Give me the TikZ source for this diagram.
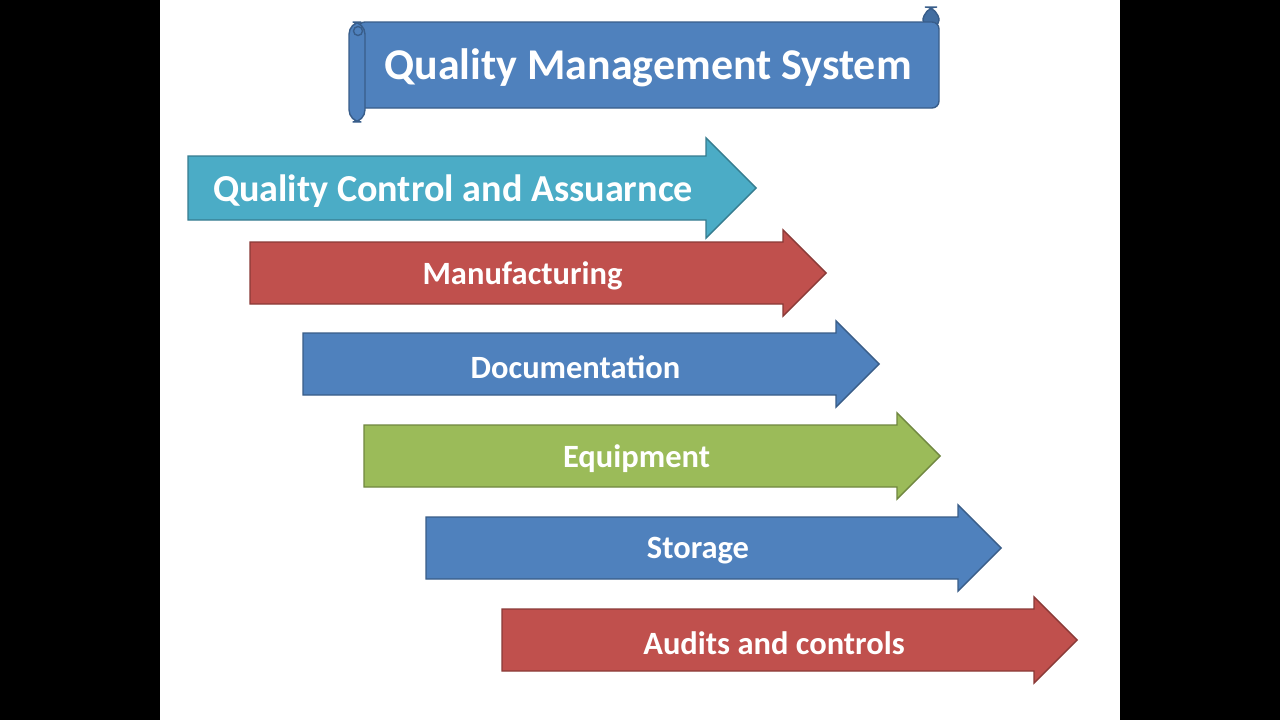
\documentclass[tikz,border=0pt]{standalone}
\usepackage{fontspec}
\setmainfont{Carlito}
\usepackage{tikz}
\usetikzlibrary{positioning}
\definecolor{qblue}{HTML}{4F81BD}
\definecolor{qred}{HTML}{C0504D}
\definecolor{qteal}{HTML}{4BACC6}
\definecolor{qgreen}{HTML}{9BBB59}
\definecolor{edge}{HTML}{385D8A}
\tikzset{
  lbl/.style={text=white,inner sep=0pt,font=\bfseries\fontsize{#1}{#1}\selectfont},
  roll/.style={fill=qblue,draw=edge,line width=0.8pt},
}
% #1 name, #2 tail x, #3 neck x, #4 mid y, #5 half body, #6 half head, #7 colour, #8 font size, #9 text
\newcommand{\stagearrow}[9]{%
  \filldraw[fill=#7,draw=#7!72!black,line width=0.8pt,line join=miter]
    (#2,#4-#5) -- (#3,#4-#5) -- (#3,#4-#6) -- (#3+#6,#4) -- (#3,#4+#6) -- (#3,#4+#5) -- (#2,#4+#5) -- cycle;
  \node[lbl=#8] (#1) at ({(#2+#3)/2+6},#4+3) {#9};
}

\begin{document}
\begin{tikzpicture}[x=0.02cm,y=-0.02cm]
\fill[black] (0,0) rectangle (1280,720);
\fill[white] (160,0) rectangle (1120,720);
\useasboundingbox (0,0) rectangle (1280,720);
% scroll
\filldraw[roll,fill=qblue!85!black,rounded corners=8] (923,7) rectangle (939,32);
\filldraw[roll,rounded corners=4] (358,22) rectangle (939,108);
\filldraw[roll,rounded corners=7] (349,22) rectangle (365,122);
\draw[edge,line width=0.8pt] (358,31) circle (4.5);
\node[lbl=25] (qms) at (648,68) {Quality Management System};
% stages
\stagearrow{qca}{188}{706}{188}{32}{50}{qteal}{21.7}{Quality Control and Assuarnce}
\stagearrow{mfg}{250}{783}{273}{31}{43}{qred}{18.5}{Manufacturing}
\stagearrow{doc}{303}{836}{364}{31}{43}{qblue}{18.5}{Documentation}
\stagearrow{equ}{364}{897}{456}{31}{43}{qgreen}{18.5}{Equipment}
\stagearrow{sto}{426}{958}{548}{31}{43}{qblue}{18.5}{Storage}
\stagearrow{aud}{502}{1034}{640}{31}{43}{qred}{18.5}{Audits and controls}
\end{tikzpicture}
\end{document}
